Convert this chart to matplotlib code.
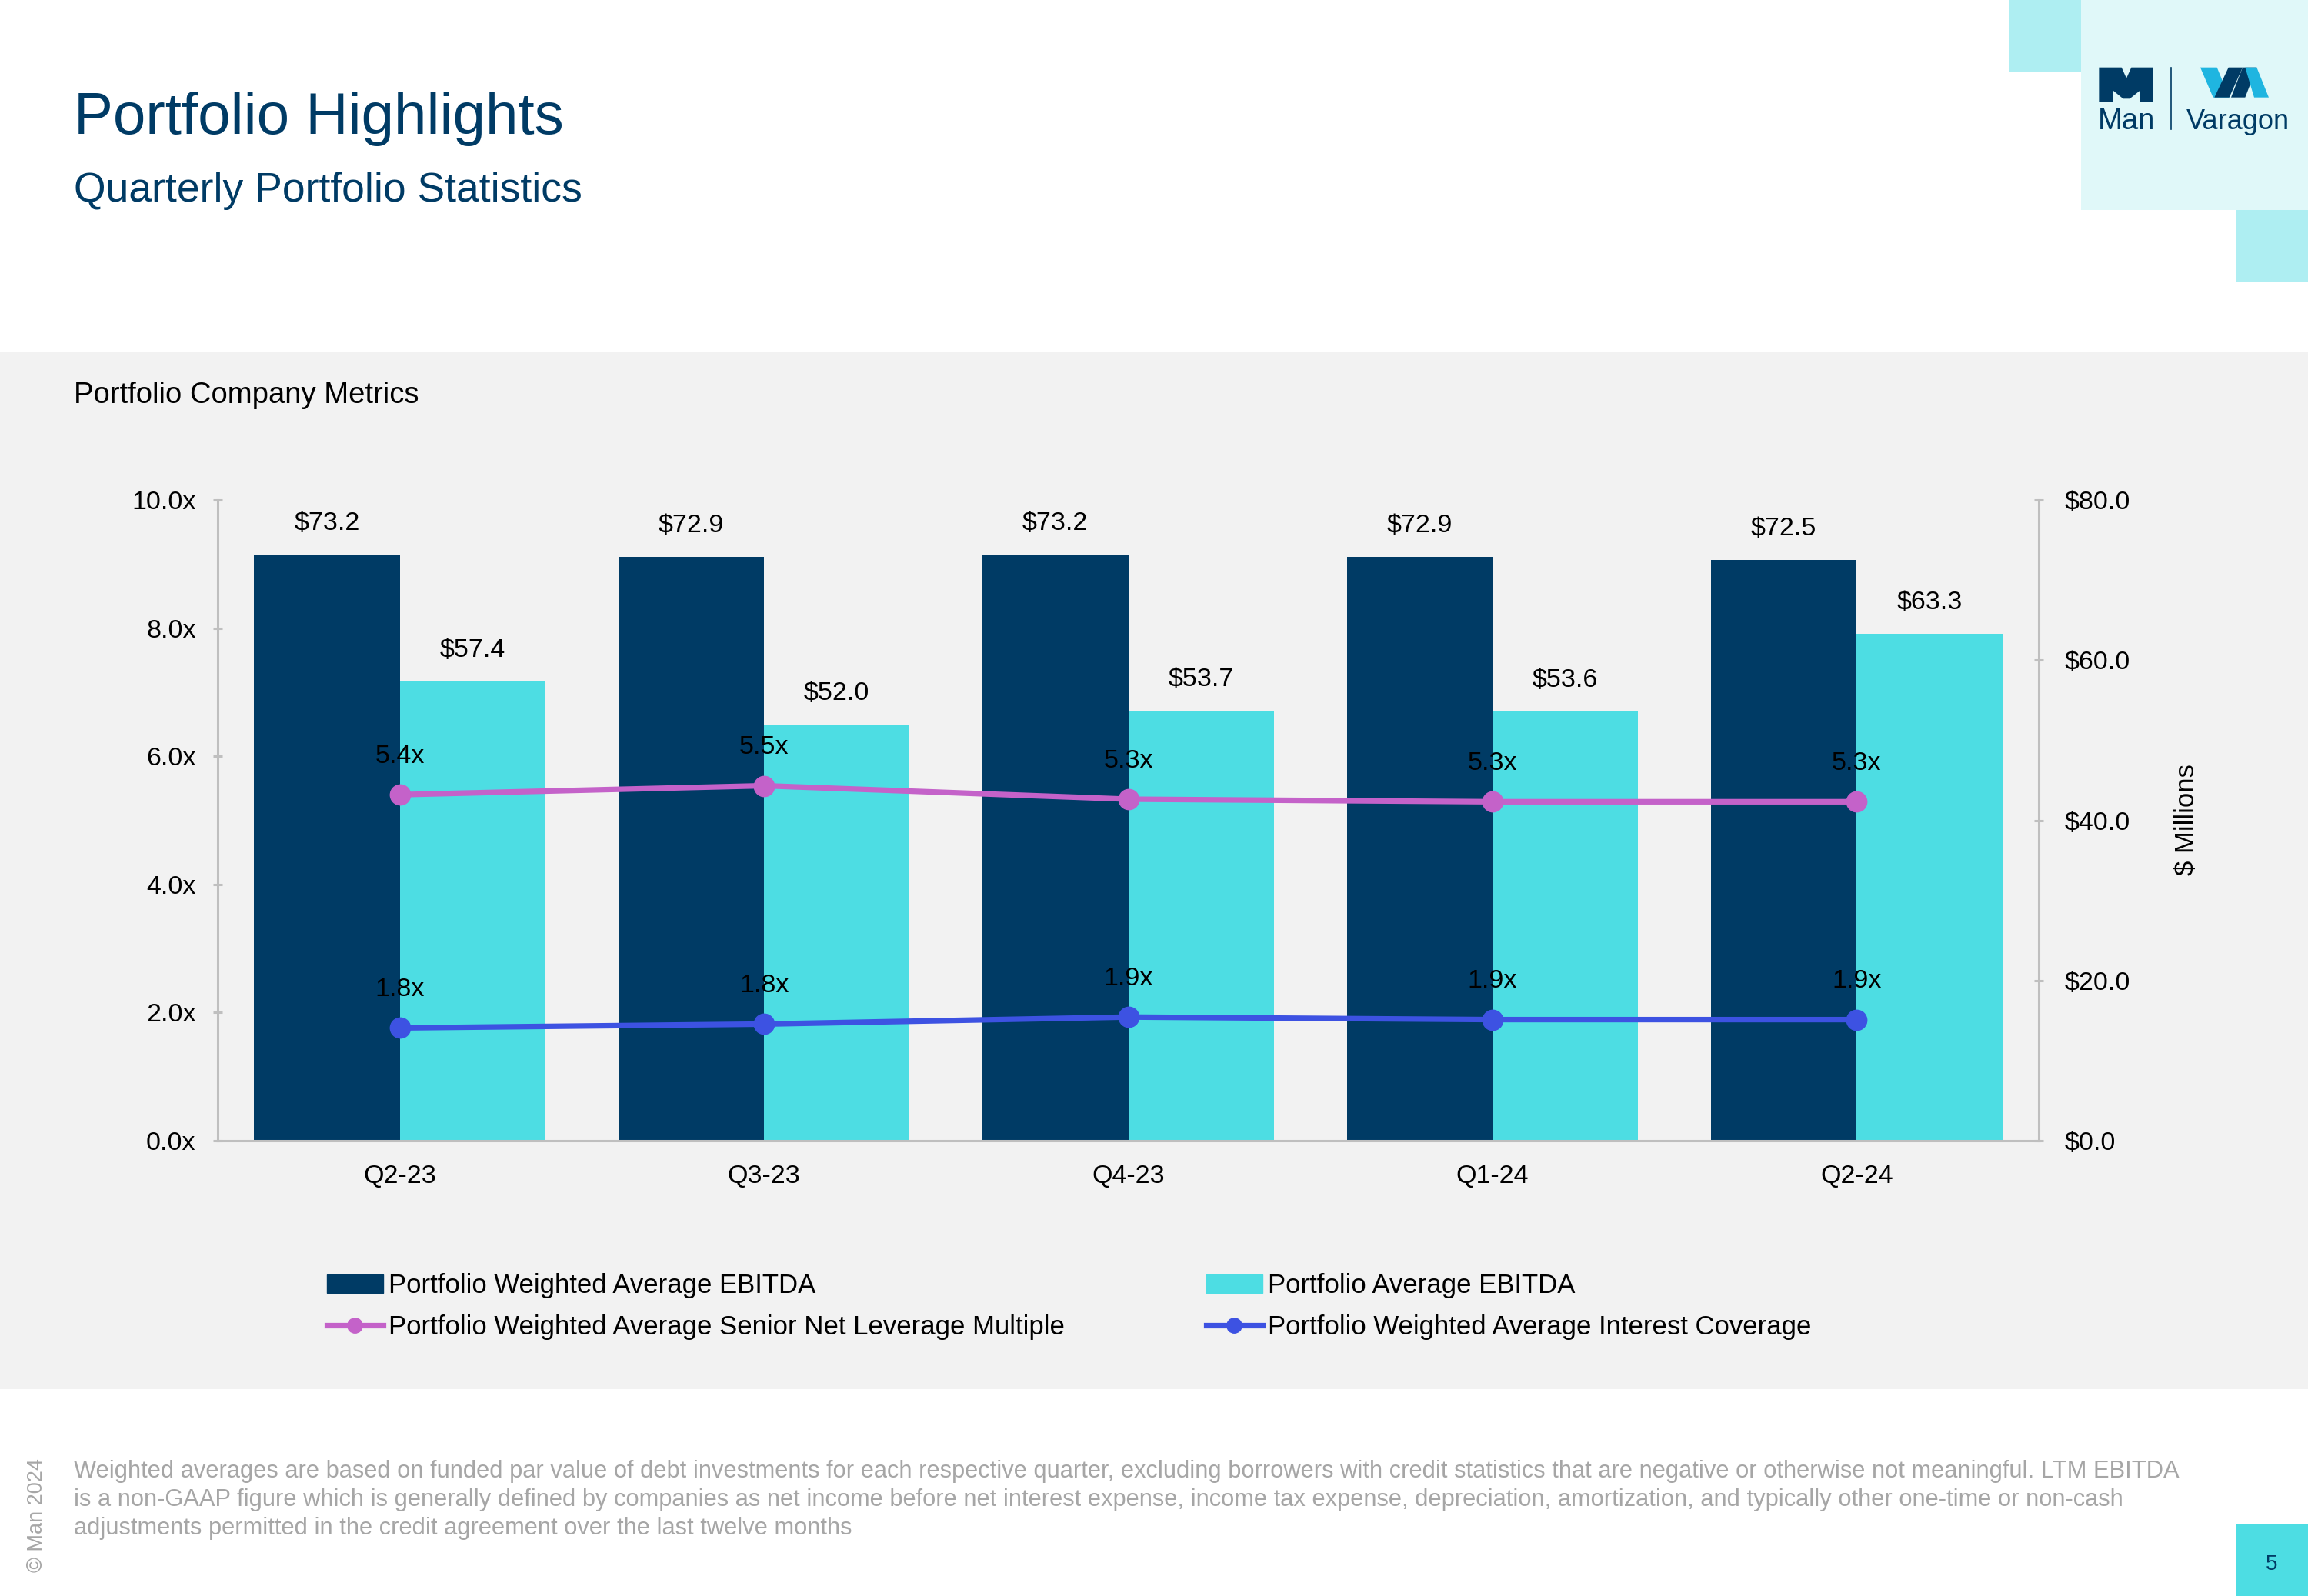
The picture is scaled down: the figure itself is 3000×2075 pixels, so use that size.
import matplotlib.pyplot as plt
from matplotlib.patches import Rectangle, Polygon
from matplotlib.lines import Line2D
import numpy as np

plt.rcParams['font.family'] = ['Liberation Sans', 'DejaVu Sans']

# data
quarters = ['Q2-23', 'Q3-23', 'Q4-23', 'Q1-24', 'Q2-24']
wtd_ebitda = [73.2, 72.9, 73.2, 72.9, 72.5]
avg_ebitda = [57.4, 52.0, 53.7, 53.6, 63.3]
leverage = [5.40, 5.54, 5.33, 5.29, 5.29]
coverage = [1.76, 1.82, 1.93, 1.89, 1.89]
left_ticks = [0, 2, 4, 6, 8, 10]
right_ticks = [0, 20, 40, 60, 80]

NAVY = '#003b65'
CYAN = '#4ddde3'
MAGENTA = '#c462c9'
BLUE = '#3d52e2'
GRID = '#bfbfbf'
FOOT = '#a6a6a6'

W, H = 3000, 2075
fig = plt.figure(figsize=(W / 100, H / 100), dpi=100)
fig.patch.set_facecolor('white')


def fx(px):
    return px / W


def fy(py):
    return 1 - py / H


def rect(x0, y0, x1, y1, color):
    fig.patches.append(Rectangle((fx(x0), fy(y1)), fx(x1) - fx(x0), fy(y0) - fy(y1),
                                 transform=fig.transFigure, color=color, lw=0, zorder=-5))


def poly(pts, color):
    fig.patches.append(Polygon([(fx(x), fy(y)) for x, y in pts], closed=True,
                               transform=fig.transFigure, color=color, lw=0, zorder=-1))


# background blocks
rect(0, 457, W, 1806, '#f2f2f2')
rect(2705, 0, W, 273, '#e0f8f9')
rect(2612, 0, 2705, 93, '#aeeef2')
rect(2907, 273, W, 367, '#aeeef2')
rect(2906, 1982, W, H, CYAN)

# logo
def z(pts):
    return [(2715 + a / 3, 75 + b / 3) for a, b in pts]

poly(z([(40, 172), (40, 38), (128, 38), (147, 80), (166, 38), (250, 38), (250, 172),
        (200, 172), (200, 128), (160, 160), (134, 160), (95, 128), (95, 172)]), NAVY)
poly(z([(435, 38), (500, 38), (548, 155), (485, 155)]), '#1fb5e0')
poly(z([(490, 155), (548, 155), (600, 38), (545, 38)]), NAVY)
poly(z([(555, 155), (610, 155), (655, 38), (600, 38)]), NAVY)
poly(z([(610, 38), (655, 38), (702, 155), (645, 155)]), '#1fb5e0')
fig.add_artist(Line2D([fx(2822), fx(2822)], [fy(88), fy(168)], transform=fig.transFigure,
                      color=NAVY, lw=1.2))
fig.text(fx(2727), fy(168), 'Man', fontsize=27.5, color=NAVY, fontweight='light',
         ha='left', va='baseline')
fig.text(fx(2842), fy(168), 'Varagon', fontsize=26, color=NAVY, ha='left', va='baseline')

# titles
fig.text(fx(96), fy(174), 'Portfolio Highlights', fontsize=55, color=NAVY, va='baseline')
fig.text(fx(96), fy(262), 'Quarterly Portfolio Statistics', fontsize=38.5, color=NAVY,
         va='baseline')
fig.text(fx(96), fy(524), 'Portfolio Company Metrics', fontsize=27.5, color='black',
         va='baseline')

# chart: bars on $ axis (right), multiples on twin (left) so lines sit on top
ax = fig.add_axes([fx(283), fy(1483), fx(2650) - fx(283), fy(650) - fy(1483)])
ax.set_facecolor('none')
ax2 = ax.twinx()

x = np.arange(len(quarters))
bw = 0.4
ax.bar(x - bw / 2, wtd_ebitda, bw, color=NAVY, zorder=2)
ax.bar(x + bw / 2, avg_ebitda, bw, color=CYAN, zorder=2)
ax.set_xlim(-0.5, len(quarters) - 0.5)
ax.set_ylim(0, 80)
ax.set_yticks(right_ticks)
ax.set_yticklabels([f'${v:.1f}' for v in right_ticks])
ax.set_xticks(x)
ax.set_xticklabels(quarters)
ax.yaxis.tick_right()
for s in ['top', 'left']:
    ax.spines[s].set_visible(False)
for s in ['right', 'bottom']:
    ax.spines[s].set_visible(True)
    ax.spines[s].set_color(GRID)
    ax.spines[s].set_linewidth(2.2)
ax.tick_params(axis='x', length=0, pad=22, labelsize=24.5)
ax.tick_params(axis='y', which='both', left=False, labelleft=False, right=True,
               labelright=True, direction='inout', length=9, width=2.2, color=GRID,
               pad=20, labelsize=24.5)

for xi, v in zip(x - bw / 2, wtd_ebitda):
    ax.annotate(f'${v:.1f}', (xi, v), xytext=(0, 29), textcoords='offset points',
                ha='center', va='center', fontsize=24.5)
for xi, v in zip(x + bw / 2, avg_ebitda):
    ax.annotate(f'${v:.1f}', (xi, v), xytext=(0, 29), textcoords='offset points',
                ha='center', va='center', fontsize=24.5)

ax2.set_ylim(0, 10)
ax2.set_yticks(left_ticks)
ax2.set_yticklabels([f'{v:.1f}x' for v in left_ticks])
ax2.yaxis.tick_left()
for s in ['top', 'right', 'bottom']:
    ax2.spines[s].set_visible(False)
ax2.spines['left'].set_visible(True)
ax2.spines['left'].set_color(GRID)
ax2.spines['left'].set_linewidth(2.2)
ax2.tick_params(axis='y', left=True, labelleft=True, right=False, labelright=False,
                direction='inout', length=9, width=2.2, color=GRID,
                pad=16, labelsize=24.5)

ax2.plot(x, leverage, color=MAGENTA, lw=5.2, marker='o', ms=19, zorder=3)
ax2.plot(x, coverage, color=BLUE, lw=5.2, marker='o', ms=19, zorder=3)
for xi, v in zip(x, leverage):
    ax2.annotate(f'{v:.1f}x', (xi, v), xytext=(0, 36), textcoords='offset points',
                 ha='center', va='center', fontsize=24.5)
for xi, v in zip(x, coverage):
    ax2.annotate(f'{v:.1f}x', (xi, v), xytext=(0, 36), textcoords='offset points',
                 ha='center', va='center', fontsize=24.5)

fig.text(fx(2843), fy(1066), '$ Millions', rotation=90, fontsize=25, ha='center',
         va='center')

# legend
handles = [
    Rectangle((0, 0), 1, 1, color=NAVY),
    Line2D([], [], color=MAGENTA, lw=5.2, marker='o', ms=14),
    Rectangle((0, 0), 1, 1, color=CYAN),
    Line2D([], [], color=BLUE, lw=5.2, marker='o', ms=14),
]
labels = [
    'Portfolio Weighted Average EBITDA',
    'Portfolio Weighted Average Senior Net Leverage Multiple',
    'Portfolio Average EBITDA',
    'Portfolio Weighted Average Interest Coverage',
]
fig.legend(handles, labels, ncol=2, loc='upper left', bbox_to_anchor=(fx(425), fy(1655)),
           frameon=False, fontsize=25, handlelength=2.1, handletextpad=0.2,
           columnspacing=5.3, labelspacing=0.6, borderpad=0, borderaxespad=0)

# footnote
foot = [
    'Weighted averages are based on funded par value of debt investments for each respective '
    'quarter, excluding borrowers with credit statistics that are negative or otherwise not '
    'meaningful. LTM EBITDA',
    'is a non-GAAP figure which is generally defined by companies as net income before net '
    'interest expense, income tax expense, depreciation, amortization, and typically other '
    'one-time or non-cash',
    'adjustments permitted in the credit agreement over the last twelve months',
]
for i, line in enumerate(foot):
    fig.text(fx(96), fy(1913 + 37 * i), line, fontsize=22.2, color=FOOT, va='center')
fig.text(fx(48), fy(1970), '\u00a9 Man 2024', rotation=90, fontsize=19.5, color=FOOT,
         ha='center', va='center')
fig.text(fx(2953), fy(2034), '5', fontsize=20, color=NAVY, ha='center', va='center')

fig.savefig('out.png', dpi=100)
